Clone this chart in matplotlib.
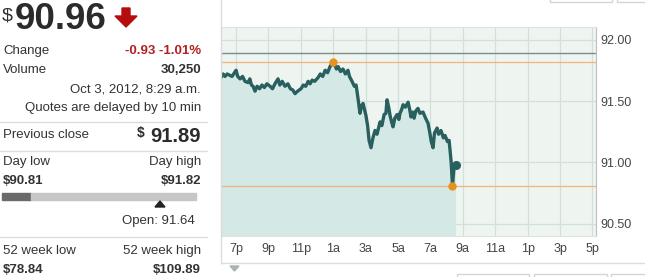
import matplotlib
matplotlib.use("Agg")
import matplotlib.pyplot as plt
from matplotlib.patches import Rectangle, Polygon
from matplotlib.lines import Line2D

plt.rcParams['font.family'] = ['Liberation Sans', 'DejaVu Sans']

# intraday quotes, hours counted from midnight of Oct 2 (19 = 7p, 32.5 = 8:30a)
times = [18.07, 18.2, 18.32, 18.45, 18.6, 18.75, 18.9, 19.0, 19.1, 19.25, 19.4, 19.55,
         19.74, 19.85, 19.95, 20.05, 20.17, 20.3, 20.45, 20.6, 20.75, 20.9, 21.1, 21.25,
         21.4, 21.59, 21.7, 21.85, 22.02, 22.2, 22.35, 22.5, 22.64, 22.8, 23.01, 23.15,
         23.3, 23.45, 23.57, 23.7, 23.85, 24.06, 24.2, 24.35, 24.5, 24.65, 24.8, 24.99,
         25.1, 25.2, 25.3, 25.45, 25.6, 25.75, 25.91, 26.0, 26.16, 26.3, 26.41, 26.55,
         26.65, 26.75, 26.84, 26.95, 27.02, 27.12, 27.21, 27.33, 27.45, 27.58, 27.7, 27.89,
         28.0, 28.14, 28.25, 28.32, 28.42, 28.51, 28.6, 28.69, 28.8, 28.94, 29.05, 29.12,
         29.22, 29.31, 29.45, 29.62, 29.72, 29.8, 29.9, 29.99, 30.1, 30.23, 30.35, 30.54,
         30.7, 30.85, 30.95, 31.05, 31.16, 31.25, 31.41, 31.5, 31.65, 31.8, 31.9, 32.05,
         32.15, 32.21, 32.28, 32.36, 32.45, 32.55]
prices = [91.69, 91.72, 91.70, 91.72, 91.71, 91.70, 91.73, 91.75, 91.70, 91.68, 91.70, 91.66,
          91.65, 91.68, 91.63, 91.62, 91.58, 91.62, 91.60, 91.63, 91.61, 91.64, 91.62, 91.60,
          91.64, 91.68, 91.63, 91.66, 91.62, 91.64, 91.60, 91.59, 91.56, 91.58, 91.60, 91.63,
          91.62, 91.66, 91.64, 91.67, 91.66, 91.69, 91.72, 91.70, 91.75, 91.73, 91.78, 91.82,
          91.79, 91.76, 91.78, 91.74, 91.76, 91.72, 91.75, 91.70, 91.66, 91.62, 91.63, 91.50,
          91.40, 91.46, 91.48, 91.42, 91.38, 91.30, 91.18, 91.12, 91.20, 91.26, 91.23, 91.33,
          91.30, 91.39, 91.40, 91.51, 91.45, 91.38, 91.33, 91.29, 91.36, 91.39, 91.35, 91.40,
          91.43, 91.47, 91.45, 91.49, 91.43, 91.37, 91.41, 91.36, 91.42, 91.44, 91.40, 91.41,
          91.36, 91.32, 91.25, 91.17, 91.12, 91.24, 91.28, 91.23, 91.26, 91.20, 91.22, 91.17,
          91.18, 91.10, 91.00, 90.81, 90.95, 90.98]

prev_close = 91.89
day_high = 91.82
day_low = 90.81
high_time = 24.99
low_time = 32.36

tick_hours = [19, 21, 23, 25, 27, 29, 31, 33, 35, 37, 39, 41]
tick_names = ['7p', '9p', '11p', '1a', '3a', '5a', '7a', '9a', '11a', '1p', '3p', '5p']
price_ticks = [90.5, 91.0, 91.5, 92.0]

W, H = 645, 277
fig = plt.figure(figsize=(W / 100, H / 100), dpi=100)


def fx(x):
    return x / W


def fy(y):
    return 1 - y / H


def txt(x, y, s, **kw):
    kw.setdefault('fontsize', 9.5)
    kw.setdefault('color', '#333333')
    kw.setdefault('va', 'center')
    fig.text(fx(x), fy(y), s, **kw)


# ---- left quote panel ----
txt(2, 20, '$', fontsize=14, va='baseline')
txt(15, 29, '90.96', fontsize=26.5, weight='bold', color='#2b2b2b', va='baseline')
fig.patches.append(Polygon([(fx(122), fy(8)), (fx(130), fy(8)), (fx(130), fy(16)),
                            (fx(137), fy(16)), (fx(126), fy(27)), (fx(115), fy(16)),
                            (fx(122), fy(16))], closed=True, transform=fig.transFigure,
                           color='#b50d0d'))

txt(3, 51, 'Change')
txt(201, 51, '-0.93 -1.01%', ha='right', color='#b22222', weight='bold')
txt(3, 70, 'Volume')
txt(201, 70, '30,250', ha='right', weight='bold')
txt(201, 89, 'Oct 3, 2012, 8:29 a.m.', ha='right')
txt(201, 108, 'Quotes are delayed by 10 min', ha='right')
txt(3, 135, 'Previous close')
txt(201, 136, '91.89', ha='right', fontsize=14.5, weight='bold', color='#2b2b2b')
txt(137, 133, '$', ha='left', fontsize=10, weight='bold', color='#2b2b2b')
txt(3, 162, 'Day low')
txt(201, 162, 'Day high', ha='right')
txt(3, 181, '$90.81', weight='bold')
txt(201, 181, '$91.82', ha='right', weight='bold')
fig.patches.append(Rectangle((fx(2), fy(200)), fx(29), 7 / H, transform=fig.transFigure,
                             color='#6a6a6a'))
fig.patches.append(Rectangle((fx(31), fy(200)), fx(165), 7 / H, transform=fig.transFigure,
                             color='#c6c6c6'))
fig.patches.append(Polygon([(fx(160), fy(201)), (fx(155), fy(207)), (fx(165), fy(207))],
                           closed=True, transform=fig.transFigure, color='#222222'))
txt(195, 221, 'Open: 91.64', ha='right')
txt(3, 251, '52 week low')
txt(201, 251, '52 week high', ha='right')
txt(3, 270, '$78.84', weight='bold')
txt(201, 270, '$109.89', ha='right', weight='bold')

for yy in [122, 151, 237]:
    fig.lines.append(Line2D([fx(0), fx(207)], [fy(yy), fy(yy)], transform=fig.transFigure,
                            color='#d8dde0', lw=1))

# frame around the chart panel
fig.lines.append(Line2D([fx(221), fx(221)], [fy(0), fy(263)], transform=fig.transFigure,
                        color='#dcdcdc', lw=1))
fig.lines.append(Line2D([fx(221), fx(645)], [fy(263), fy(263)], transform=fig.transFigure,
                        color='#dcdcdc', lw=1))
fig.patches.append(Polygon([(fx(230), fy(266)), (fx(239), fy(266)), (fx(234.5), fy(271))],
                           closed=True, transform=fig.transFigure, color='#a9b4b6'))
for x0, x1 in [(457, 529), (534, 607), (611, 650)]:
    fig.patches.append(Rectangle((fx(x0), fy(282)), fx(x1 - x0), 8 / H,
                                 transform=fig.transFigure, fill=False,
                                 edgecolor='#d5d5d5', lw=1))
for x0, x1 in [(550, 612), (617, 650)]:
    fig.patches.append(Rectangle((fx(x0), fy(2)), fx(x1 - x0), 8 / H,
                                 transform=fig.transFigure, fill=False,
                                 edgecolor='#d5d5d5', lw=1))

# ---- price chart ----
ax = fig.add_axes([fx(221), fy(236), fx(375), (236 - 27) / H])
ax.set_facecolor('#eef5f1')
ax.set_xlim(18.07, 41.22)
ax.set_ylim(90.402, 92.102)

ax.fill_between(times, prices, 90.402, color='#d4e9e5', lw=0, zorder=1)
ax.set_xticks(tick_hours)
ax.set_xticklabels(tick_names)
ax.set_yticks(price_ticks)
ax.set_yticklabels(['%.2f' % p for p in price_ticks])
ax.grid(True, color='#d3dfd9', lw=0.9, zorder=0)
ax.set_axisbelow(True)

ax.axhline(prev_close, color='#7d8b89', lw=1, zorder=2)
ax.axhline(day_high, color='#f0b478', lw=0.9, zorder=2)
ax.axhline(day_low, color='#f0b478', lw=0.9, zorder=2)

ax.plot(times, prices, color='#29605f', lw=2.4, zorder=3)
ax.plot([high_time, low_time], [day_high, day_low], 'o', color='#e8921e', ms=5, zorder=4)
ax.plot(times[-1:], prices[-1:], 'o', color='#29605f', ms=5.5, zorder=4)

ax.yaxis.tick_right()
ax.tick_params(length=0, labelsize=9, colors='#444444')
ax.tick_params(axis='x', pad=5)
ax.tick_params(axis='y', pad=3)
for side in ['top', 'left', 'bottom']:
    ax.spines[side].set_color('#dde4e0')
ax.spines['right'].set_color('#b9c0bd')

fig.savefig('out.png', dpi=100)
